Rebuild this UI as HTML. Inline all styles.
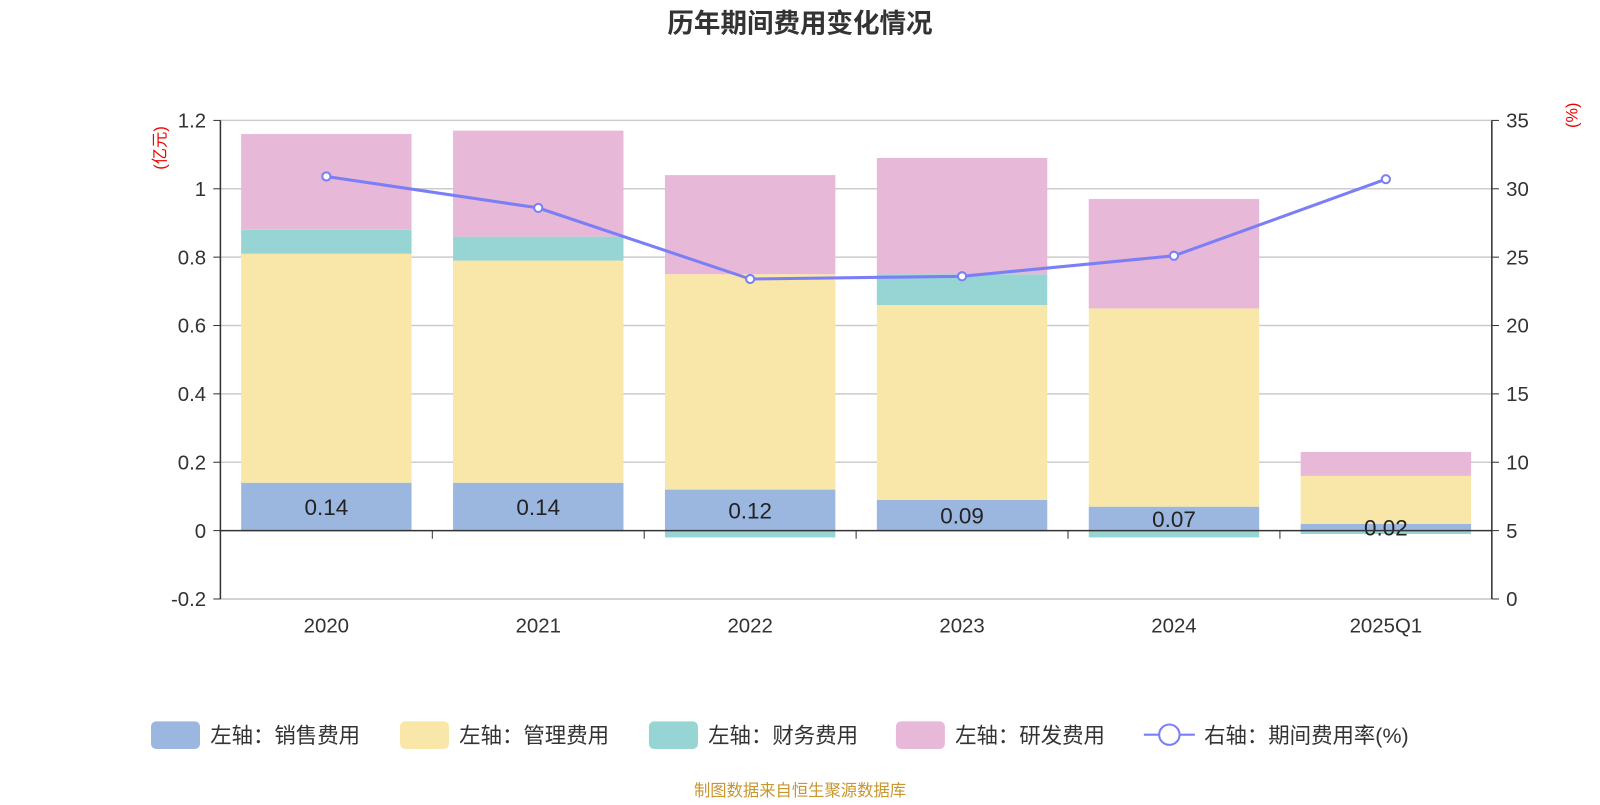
<!DOCTYPE html>
<html><head><meta charset="utf-8"><style>
body{margin:0;background:#fff;}
svg text{font-family:"Liberation Sans","Noto Sans CJK SC",sans-serif;}
</style></head><body>
<svg id="c" width="1600" height="800" xmlns="http://www.w3.org/2000/svg">
<g transform="scale(1.0204)">
<text x="784" y="32" text-anchor="middle" font-size="26" font-weight="bold" fill="#333">历年期间费用变化情况</text>
<text x="784" y="780" text-anchor="middle" font-size="16" fill="#c8962e">制图数据来自恒生聚源数据库</text>
<g id="grid"></g><g id="bars"></g><g id="axes"></g><g id="line"></g><g id="legend"></g>
</g>
</svg>
<script>
const categories=["2020","2021","2022","2023","2024","2025Q1"];
const sales=[0.14,0.14,0.12,0.09,0.07,0.02];
const mgmt=[0.67,0.65,0.63,0.57,0.58,0.14];
const fin=[0.07,0.07,-0.02,0.09,-0.02,-0.01];
const rd=[0.28,0.31,0.29,0.34,0.32,0.07];
const rate=[30.9,28.6,23.4,23.6,25.1,30.7];
const leftTicks=[-0.2,0,0.2,0.4,0.6,0.8,1,1.2];
const rightTicks=[0,5,10,15,20,25,30,35];
const NS="http://www.w3.org/2000/svg";
const X0=216,X1=1462,Ytop=118,Ybot=587;
const yL=v=>520-(v/0.2)*67;
const yR=v=>587-(v/35)*(587-118);
const bw=(X1-X0)/categories.length;
const xc=i=>X0+bw*(i+0.5);
function mk(t,a,p){const e=document.createElementNS(NS,t);for(const k in a)e.setAttribute(k,a[k]);p.appendChild(e);return e;}
const G=document.getElementById('grid'),B=document.getElementById('bars'),A=document.getElementById('axes'),L=document.getElementById('line'),LG=document.getElementById('legend');
leftTicks.forEach(v=>{
  if(v!==0){const gl=mk('line',{x1:X0,x2:X1,y1:yL(v),y2:yL(v),stroke:'#ccc','stroke-width':1.5},G);
  
  }
  mk('line',{x1:X0-7,x2:X0,y1:yL(v),y2:yL(v),stroke:'#333'},A);
  const t=mk('text',{x:X0-14,y:yL(v)+7,'text-anchor':'end','font-size':20,fill:'#333'},A);t.textContent=String(v);
  
  
});
rightTicks.forEach(v=>{
  mk('line',{x1:X1,x2:X1+7,y1:yR(v),y2:yR(v),stroke:'#333'},A);
  const t=mk('text',{x:X1+14,y:yR(v)+7,'font-size':20,fill:'#333'},A);t.textContent=String(v);
  
  
});
mk('line',{x1:X0,x2:X0,y1:Ytop,y2:Ybot,stroke:'#333','stroke-width':1.5},A);
mk('line',{x1:X1,x2:X1,y1:Ytop,y2:Ybot,stroke:'#333','stroke-width':1.5},A);
let u1=mk('text',{transform:`translate(162,145) rotate(-90)`,'text-anchor':'middle','font-size':16,fill:'#e00'},A);u1.textContent='(亿元)';

let u2=mk('text',{transform:`translate(1546,113) rotate(-90)`,'text-anchor':'middle','font-size':16,fill:'#e00'},A);u2.textContent='(%)';

const series=[[sales,'#9bb7e0'],[mgmt,'#f8e7a8'],[fin,'#97d4d4'],[rd,'#e8b8d8']];
const names=['sales','mgmt','fin','rd'];
categories.forEach((c,i)=>{
  let pos=0,neg=0;const bx=xc(i)-83.5;
  series.forEach(([arr,col],k)=>{
    const v=arr[i];let a,b;
    if(v>=0){a=pos;b=pos+v;pos=b;}else{a=neg;b=neg+v;neg=b;}
    const r=mk('rect',{x:bx,width:167,y:Math.min(yL(a),yL(b)),height:Math.abs(yL(a)-yL(b)),fill:col},B);
    
    
  });
  const t=mk('text',{x:xc(i),y:(yL(0)+yL(sales[i]))/2+8,'text-anchor':'middle','font-size':22,fill:'#222'},B);
  t.textContent=sales[i].toFixed(2);
  
  
  const xl=mk('text',{x:xc(i),y:620,'text-anchor':'middle','font-size':20,fill:'#333'},A);xl.textContent=c;
  
  
  if(i>0)mk('line',{x1:X0+bw*i,x2:X0+bw*i,y1:520,y2:528,stroke:'#333'},A);
});
mk('line',{x1:X0,x2:X1,y1:yL(0),y2:yL(0),stroke:'#333','stroke-width':1.5},A);
mk('line',{x1:X0,x2:X1,y1:Ybot,y2:Ybot,stroke:'#ccc','stroke-width':1.5},G);
const pl=mk('polyline',{points:rate.map((v,i)=>xc(i)+','+yR(v)).join(' '),fill:'none',stroke:'#7b7ff5','stroke-width':3},L);

rate.forEach((v,i)=>{const p=mk('circle',{cx:xc(i),cy:yR(v),r:4,fill:'#fff',stroke:'#7b7ff5','stroke-width':2},L);
});
const legItems=[['左轴：销售费用','#9bb7e0',148],['左轴：管理费用','#f8e7a8',392],['左轴：财务费用','#97d4d4',636],['左轴：研发费用','#e8b8d8',878]];
legItems.forEach(([n,col,x])=>{
  const g=mk('g',{},LG);
  mk('rect',{x:x,y:707,width:48,height:27,rx:5,fill:col},g);
  const t=mk('text',{x:x+58,y:728,'font-size':21,fill:'#333'},g);t.textContent=n;
});
const g=mk('g',{},LG);
mk('line',{x1:1121,x2:1171,y1:720,y2:720,stroke:'#7b7ff5','stroke-width':2},g);
mk('circle',{cx:1146,cy:720,r:10,fill:'#fff',stroke:'#7b7ff5','stroke-width':2},g);
const t=mk('text',{x:1180,y:728,'font-size':21,fill:'#333'},g);t.textContent='右轴：期间费用率(%)';
</script>
</body></html>
